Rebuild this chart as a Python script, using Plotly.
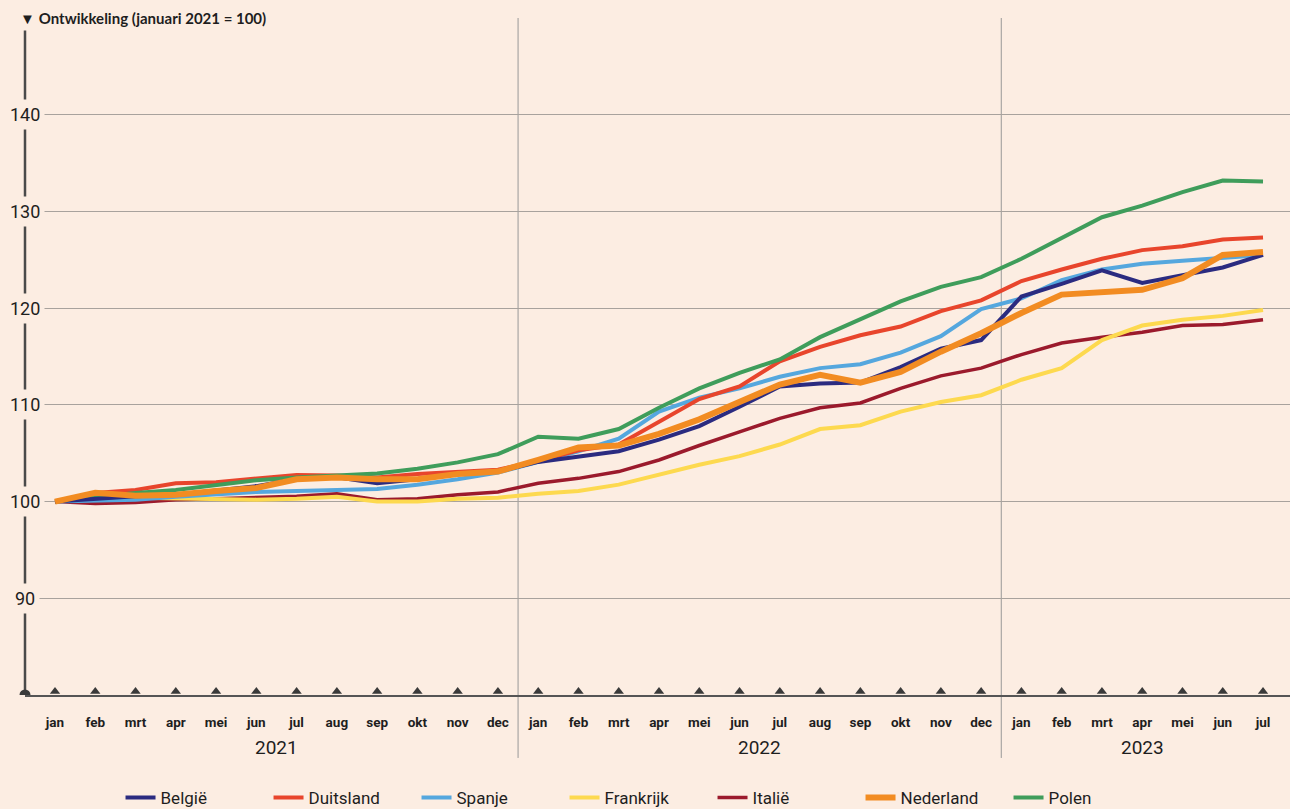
import plotly.graph_objects as go

# -----------------------------------------------------
# data (januari 2021 = 100)
# -----------------------------------------------------
maanden = ["jan", "feb", "mrt", "apr", "mei", "jun", "jul", "aug", "sep", "okt", "nov", "dec"]
jaren = ["2021", "2022", "2023"]
tick_labels = maanden + maanden + maanden[:7]

belgie = [100, 100.3, 100.55, 100.7, 101.2, 101.6, 102.3, 102.5, 101.9, 102.3, 102.85, 103.1,
          104.1, 104.7, 105.2, 106.4, 107.8, 109.8, 111.9, 112.2, 112.3, 113.9, 115.8, 116.7,
          121.2, 122.5, 123.9, 122.6, 123.4, 124.2, 125.5]
duitsland = [100, 100.9, 101.2, 101.9, 102.0, 102.4, 102.75, 102.7, 102.5, 102.85, 103.1, 103.3,
             104.2, 105.3, 105.9, 108.3, 110.6, 111.9, 114.5, 116.0, 117.2, 118.1, 119.7, 120.8,
             122.8, 124.0, 125.1, 126.0, 126.4, 127.1, 127.3]
spanje = [100, 100.1, 100.2, 100.5, 100.8, 101.0, 101.1, 101.2, 101.3, 101.75, 102.3, 103.0,
          104.05, 105.2, 106.5, 109.3, 110.75, 111.7, 112.9, 113.8, 114.2, 115.4, 117.1, 119.9,
          121.0, 122.9, 124.0, 124.6, 124.9, 125.2, 125.5]
frankrijk = [100, 100.3, 100.4, 100.3, 100.2, 100.2, 100.3, 100.5, 100.0, 100.0, 100.3, 100.4,
             100.8, 101.1, 101.75, 102.8, 103.8, 104.7, 105.9, 107.5, 107.9, 109.3, 110.3, 111.0,
             112.6, 113.8, 116.7, 118.2, 118.8, 119.2, 119.8]
italie = [100, 99.8, 99.9, 100.2, 100.3, 100.4, 100.55, 100.8, 100.2, 100.3, 100.7, 101.0,
          101.9, 102.4, 103.1, 104.3, 105.8, 107.2, 108.6, 109.7, 110.2, 111.7, 113.0, 113.8,
          115.2, 116.4, 117.0, 117.5, 118.2, 118.3, 118.8]
nederland = [100, 100.9, 100.6, 100.7, 101.1, 101.4, 102.3, 102.5, 102.3, 102.3, 102.85, 103.1,
             104.3, 105.6, 105.8, 107.0, 108.5, 110.3, 112.1, 113.1, 112.3, 113.4, 115.5, 117.4,
             119.5, 121.4, 121.6, 121.9, 123.1, 125.5, 125.8]
polen = [100, 100.5, 100.9, 101.2, 101.7, 102.2, 102.5, 102.7, 102.9, 103.4, 104.05, 104.9,
         106.7, 106.5, 107.5, 109.7, 111.7, 113.3, 114.7, 117.0, 118.8, 120.7, 122.2, 123.2,
         125.1, 127.2, 129.4, 130.6, 132.0, 133.2, 133.1]

y_ticks = [90, 100, 110, 120, 130, 140]

BG = "#fcede2"
INK = "#1e1e1e"
idx = list(range(len(tick_labels)))

# (naam, waarden, kleur, lijndikte, legendavolgorde) - in tekenvolgorde
reeksen = [
    ("Italië", italie, "#9b1a2c", 3.5, 5),
    ("Frankrijk", frankrijk, "#fdd94f", 4, 4),
    ("Spanje", spanje, "#55a7de", 4, 3),
    ("Duitsland", duitsland, "#e8452c", 4, 2),
    ("Polen", polen, "#3f9d5b", 4, 7),
    ("België", belgie, "#2b2b80", 4, 1),
    ("Nederland", nederland, "#f28c22", 6, 6),
]

fig = go.Figure()
for naam, vals, kleur, dikte, rank in reeksen:
    fig.add_trace(go.Scatter(x=idx, y=vals, name=naam, mode="lines",
                             line=dict(color=kleur, width=dikte), legendrank=rank,
                             hovertemplate=naam + ": %{y:.1f}<extra></extra>"))

# driehoekjes op de x-as
fig.add_trace(go.Scatter(x=idx, y=[80 + 0.35] * len(idx), mode="markers", showlegend=False,
                         hoverinfo="skip", cliponaxis=False,
                         marker=dict(symbol="triangle-up", size=9, color="#3a3a3a")))

shapes = [
    # y-as lijn
    dict(type="line", xref="paper", yref="y", x0=0, x1=0, y0=80, y1=148.8,
         line=dict(color="#4a4a4a", width=2.5), layer="below"),
    # bolletje linksonder
    dict(type="circle", xref="paper", yref="y", xsizemode="pixel", ysizemode="pixel",
         xanchor=0, yanchor=80, x0=-5.5, x1=5.5, y0=-5.5, y1=5.5,
         fillcolor="#3a3a3a", line=dict(width=0)),
]
# jaarscheidingen
for k in (1, 2):
    shapes.append(dict(type="line", xref="x", yref="paper", x0=12 * k - 0.5, x1=12 * k - 0.5,
                       y0=-0.093, y1=1, line=dict(color="#999999", width=1), layer="below"))

annotations = [
    dict(xref="paper", yref="y", x=0, y=150, xanchor="left", yanchor="middle", xshift=-9,
         text="<span style='font-size:15px'>▼</span> <b>Ontwikkeling (januari 2021 = 100)</b>",
         showarrow=False, bgcolor=BG, borderpad=3,
         font=dict(family="Lato, Noto Sans, sans-serif", size=15, color=INK)),
]
for v in y_ticks:
    annotations.append(dict(xref="paper", yref="y", x=0, y=v, xanchor="center", yanchor="middle",
                            text=str(v), showarrow=False, bgcolor=BG, borderpad=4,
                            font=dict(family="Roboto, sans-serif", size=18, color=INK)))
for k, jaar in enumerate(jaren):
    n = min(12, len(idx) - 12 * k)
    annotations.append(dict(xref="x", yref="paper", x=12 * k + (n - 1) / 2, y=0, yshift=-52,
                            xanchor="center", yanchor="middle", text=jaar, showarrow=False,
                            font=dict(family="Roboto, sans-serif", size=19, color=INK)))

fig.update_layout(
    width=1290, height=809,
    paper_bgcolor=BG, plot_bgcolor=BG,
    margin=dict(l=25, r=0, t=18, b=114, autoexpand=False),
    showlegend=True,
    legend=dict(orientation="h", x=0.485, xanchor="center", y=-0.152, yanchor="middle",
                font=dict(family="Roboto, sans-serif", size=17, color=INK),
                entrywidth=103, itemwidth=30, bgcolor="rgba(0,0,0,0)"),
    shapes=shapes, annotations=annotations,
    hovermode="closest",
)
fig.update_xaxes(range=[-0.745, 30.67], tickvals=idx, ticktext=tick_labels,
                 showgrid=False, zeroline=False, showline=True, linecolor="#555555", linewidth=1.5,
                 ticks="", ticklabelstandoff=14,
                 tickfont=dict(family="Roboto, sans-serif", size=13.5, color=INK, weight="bold"))
fig.update_yaxes(range=[80, 150], tickvals=y_ticks + [150], showticklabels=False,
                 showgrid=True, gridcolor="#a8a29d", gridwidth=1.2, zeroline=False, showline=False)

fig.write_html("out.html", config={"displayModeBar": False},
               post_script="document.body.style.margin='0';")
